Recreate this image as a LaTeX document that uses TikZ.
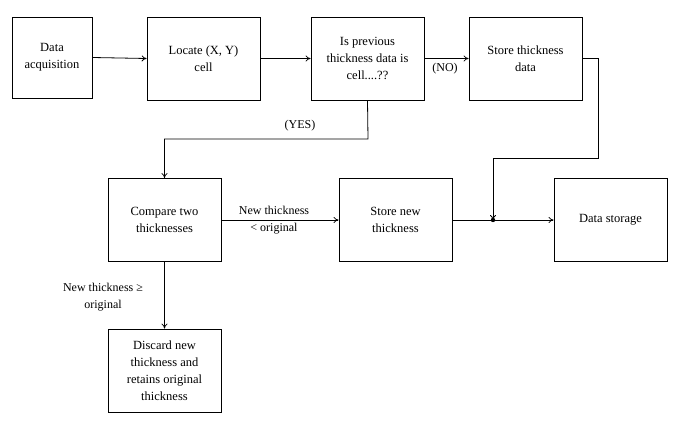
\documentclass[tikz,border=0pt]{standalone}
\usepackage{fontspec}
\setmainfont{Liberation Serif}
\usetikzlibrary{arrows.meta,calc}
\begin{document}
\begin{tikzpicture}[x=1pt,y=-1pt,
  box/.style={draw,line width=0.8pt,inner sep=0pt,align=center,font=\fontsize{12.5}{17}\selectfont},
  lbl/.style={align=center,font=\fontsize{12}{17}\selectfont,inner sep=1pt},
  arr/.style={line width=0.8pt,-{To[length=5pt,width=6pt]}},
  ln/.style={line width=0.8pt}]
\useasboundingbox (0,0) rectangle (685,430);
\node[box,minimum width=80,minimum height=81] (da) at (52,57.5) {Data\\acquisition};
\node[box,minimum width=113,minimum height=83] (loc) at (203.5,58.5) {Locate (X, Y)\\cell};
\node[box,minimum width=113,minimum height=83] (isp) at (367.5,58.5) {Is previous\\thickness data is\\cell....??};
\node[box,minimum width=113,minimum height=83] (stt) at (525.5,58.5) {Store thickness\\data};
\node[box,minimum width=113,minimum height=83] (cmp) at (164.5,220) {Compare two\\thicknesses};
\node[box,minimum width=113,minimum height=83] (snew) at (395.5,220) {Store new\\thickness};
\node[box,minimum width=113,minimum height=83] (ds) at (610.5,220) {Data storage};
\node[box,minimum width=113,minimum height=83] (dis) at (164.5,370.5) {Discard new\\thickness and\\retains original\\thickness};
\coordinate (j) at (493,220);
\draw[arr] (da.east) -- (loc.west);
\draw[arr] (loc.east) -- (isp.west);
\draw[arr] (isp.east) -- (stt.west);
\node[lbl] (no) at (445,69) {(NO)};
\draw[arr] (isp.south) -- (368,139) -| (cmp.north);
\node[lbl] (yes) at (300,126) {(YES)};
\draw[arr] (stt.east) -- (598,58.5) -- (598,158) -| (j);
\draw[arr] (snew.east) -- (ds.west);
\fill (j) circle (2.2);
\draw[arr] (cmp.east) -- (snew.west);
\node[lbl] (lt) at (274,220) {New thickness\\< original};
\draw[arr] (cmp.south) -- (dis.north);
\node[lbl] (ge) at (103,297) {New thickness ≥\\original};
\end{tikzpicture}
\end{document}
